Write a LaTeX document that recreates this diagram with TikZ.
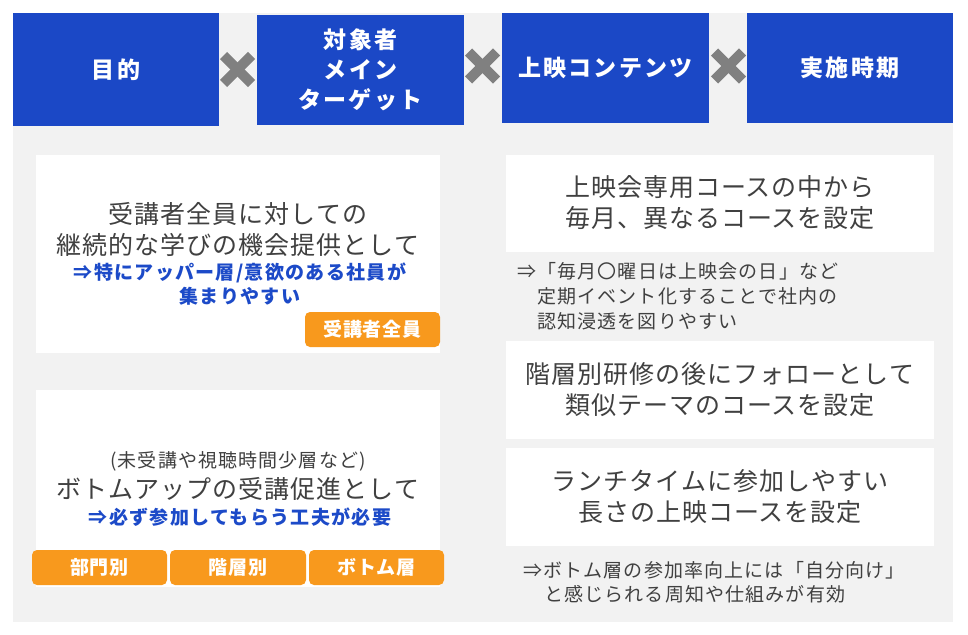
\documentclass[tikz,border=0pt]{standalone}
\usepackage{fontspec}
\setmainfont{Noto Sans CJK JP}
\newfontfamily\hdrfont{Noto Sans CJK JP}[LetterSpace=10]
\newfontfamily\bodyfont{Noto Sans CJK JP}[LetterSpace=4]
\newfontfamily\smallfont{Noto Sans CJK JP}[LetterSpace=6]
\newfontfamily\boldsmall{Noto Sans CJK JP}[LetterSpace=7]
\newfontfamily\tagfont{Noto Sans CJK JP}[LetterSpace=4]
\definecolor{hdrblue}{RGB}{27,72,198}
\definecolor{txtblue}{RGB}{28,74,200}
\definecolor{tagorange}{RGB}{248,153,29}
\definecolor{bggray}{RGB}{242,242,242}
\definecolor{crossgray}{RGB}{128,128,128}
\definecolor{txtgray}{RGB}{64,64,64}
\tikzset{
  hdr/.style={fill=hdrblue, text=white, inner sep=0, align=center,
    font=\hdrfont\bfseries\fontsize{23}{30}\selectfont},
  card/.style={fill=white, inner sep=0},
  tag/.style={fill=tagorange, rounded corners=5, inner sep=0, text=white,
    minimum width=135, minimum height=35,
    font=\tagfont\bfseries\fontsize{19}{22}\selectfont},
  body/.style={text=txtgray, inner sep=0, align=center,
    font=\bodyfont\fontsize{25}{31}\selectfont},
  bluetxt/.style={text=txtblue, inner sep=0, align=center,
    font=\boldsmall\bfseries\fontsize{19}{24}\selectfont},
  note/.style={text=txtgray, inner sep=0, anchor=west,
    font=\smallfont\fontsize{19}{24}\selectfont},
  crossmark/.style={draw=crossgray, line width=10, line cap=butt},
}
\begin{document}
\begin{tikzpicture}[x=1pt, y=-1pt]
\useasboundingbox (0,0) rectangle (968,634);
\fill[white] (0,0) rectangle (968,634);
\fill[bggray] (13,13) rectangle (953,622);

% headers
\node[hdr, minimum width=206, minimum height=113] (h1) at (116,69.5) {目的};
\node[hdr, minimum width=207, minimum height=110] (h2) at (360.5,70) {対象者\\メイン\\ターゲット};
\node[hdr, minimum width=207, minimum height=110] (h3) at (605.5,68) {上映コンテンツ};
\node[hdr, minimum width=206, minimum height=110] (h4) at (850,68) {実施時期};

% crosses
\coordinate (x1) at (237.5,69.5);
\coordinate (x2) at (482.5,66);
\coordinate (x3) at (728.5,66);
\foreach \c in {x1,x2,x3}{
  \draw[crossmark] (\c) ++(-14,-14) -- ++(28,28);
  \draw[crossmark] (\c) ++(-14,14) -- ++(28,-28);
}

% left cards
\node[card, minimum width=404, minimum height=198] (ca) at (238,254) {};
\node[body] (ta) at (238,229) {受講者全員に対しての\\継続的な学びの機会提供として};
\node[bluetxt] (ba) at (240,284.5) {⇒特にアッパー層/意欲のある社員が\\集まりやすい};
\node[tag] (tgA) at (372.5,329.5) {受講者全員};

\node[card, minimum width=404, minimum height=197] (cb) at (238,488.5) {};
\node[body, font=\smallfont\fontsize{19}{24}\selectfont] (tb0) at (238,461) {(未受講や視聴時間少層など)};
\node[body] (tb) at (238,489) {ボトムアップの受講促進として};
\node[bluetxt] (bb) at (240,517) {⇒必ず参加してもらう工夫が必要};
\node[tag] (tg1) at (99.5,567.5) {部門別};
\node[tag, minimum width=136] (tg2) at (238,567.5) {階層別};
\node[tag] (tg3) at (376.5,567.5) {ボトム層};

% right cards
\node[card, minimum width=428, minimum height=97] (cc) at (720,203.5) {};
\node[body] (tc) at (720,203) {上映会専用コースの中から\\毎月、異なるコースを設定};
\node[note] (nc1) at (517,271) {⇒「毎月〇曜日は上映会の日」など};
\node[note] (nc2) at (537,296) {定期イベント化することで社内の};
\node[note] (nc3) at (537,321) {認知浸透を図りやすい};

\node[card, minimum width=428, minimum height=98] (cd) at (720,390) {};
\node[body] (td) at (720,390) {階層別研修の後にフォローとして\\類似テーマのコースを設定};

\node[card, minimum width=428, minimum height=98] (ce) at (720,497) {};
\node[body] (te) at (720,496.5) {ランチタイムに参加しやすい\\長さの上映コースを設定};
\node[note] (ne1) at (523,570) {⇒ボトム層の参加率向上には「自分向け」};
\node[note] (ne2) at (544,594) {と感じられる周知や仕組みが有効};
\end{tikzpicture}
\end{document}
